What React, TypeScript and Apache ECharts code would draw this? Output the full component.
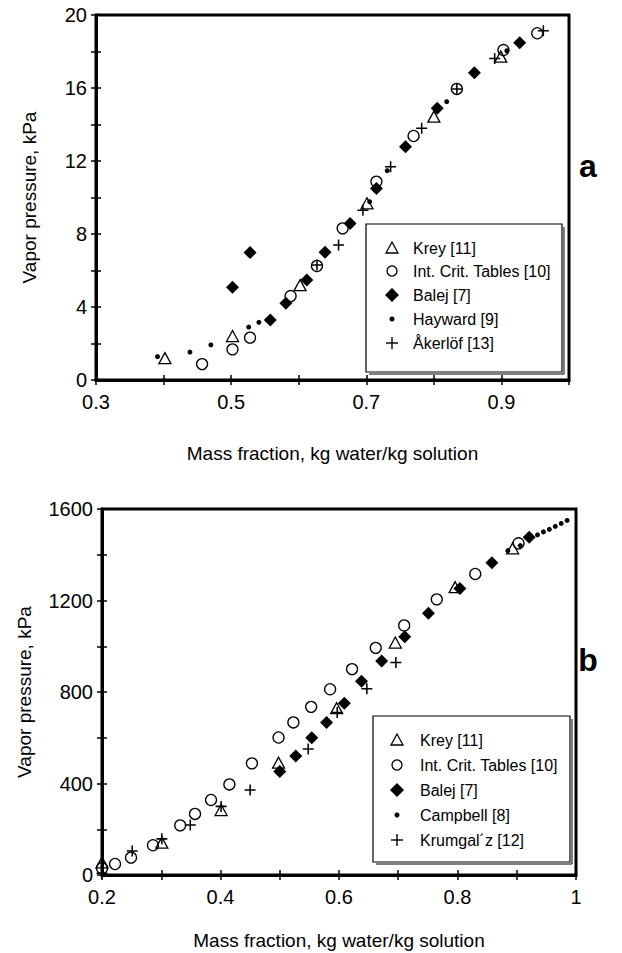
import React, { useEffect, useRef } from "react";
import * as echarts from "echarts";

// ---- Chart a: data [mass fraction, vapor pressure kPa]
const aKrey: number[][] = [[0.402, 1.2], [0.502, 2.41], [0.602, 5.2], [0.701, 9.68], [0.8, 14.43], [0.899, 17.72]];
const aICT: number[][] = [[0.457, 0.87], [0.502, 1.68], [0.528, 2.32], [0.588, 4.6], [0.627, 6.25], [0.665, 8.31], [0.715, 10.87], [0.77, 13.37], [0.834, 15.95], [0.903, 18.08], [0.953, 19.0]];
const aBalej: number[][] = [[0.502, 5.08], [0.528, 6.98], [0.558, 3.29], [0.581, 4.2], [0.612, 5.48], [0.639, 7.0], [0.676, 8.58], [0.715, 10.5], [0.758, 12.78], [0.805, 14.89], [0.86, 16.84], [0.927, 18.48]];
const aHayward: number[][] = [[0.391, 1.28], [0.439, 1.53], [0.47, 1.92], [0.526, 2.9], [0.541, 3.16], [0.705, 9.77], [0.731, 11.47], [0.819, 15.25], [0.908, 18.04]];
const aAkerlof: number[][] = [[0.627, 6.3], [0.659, 7.4], [0.695, 9.3], [0.736, 11.69], [0.782, 13.79], [0.834, 15.95], [0.89, 17.62], [0.962, 19.14]];

// ---- Chart b
const bKrey: number[][] = [[0.2, 55], [0.301, 141], [0.401, 284], [0.498, 491], [0.596, 729], [0.695, 1016], [0.796, 1258], [0.893, 1428]];
const bICT: number[][] = [[0.2, 30], [0.222, 48], [0.249, 76], [0.286, 130], [0.332, 217], [0.357, 267], [0.384, 328], [0.415, 396], [0.453, 488], [0.498, 601], [0.523, 667], [0.553, 735], [0.585, 812], [0.622, 900], [0.662, 993], [0.71, 1091], [0.765, 1205], [0.83, 1316], [0.903, 1450]];
const bBalej: number[][] = [[0.5, 452], [0.527, 520], [0.554, 600], [0.579, 667], [0.609, 751], [0.638, 847], [0.672, 935], [0.711, 1042], [0.751, 1144], [0.804, 1253], [0.858, 1365], [0.921, 1476]];
const bCampbell: number[][] = [[0.885, 1418], [0.906, 1440], [0.935, 1487], [0.945, 1500], [0.955, 1511], [0.965, 1524], [0.975, 1537], [0.985, 1550]];
const bKrumgalz: number[][] = [[0.2, 8], [0.251, 105], [0.301, 158], [0.349, 219], [0.401, 300], [0.45, 372], [0.548, 551], [0.597, 710], [0.647, 814], [0.696, 929]];

const legendA: string[] = ["Krey [11]", "Int. Crit. Tables [10]", "Balej [7]", "Hayward [9]", "Åkerlöf [13]"];
const legendB: string[] = ["Krey [11]", "Int. Crit. Tables [10]", "Balej [7]", "Campbell [8]", "Krumgal´z [12]"];

const xTitle = "Mass fraction, kg water/kg solution";
const yTitle = "Vapor pressure, kPa";

const FONT = "'Liberation Sans', Arial, Helvetica, sans-serif";
const PLUS = "path://M4.3,0H5.7V4.3H10V5.7H5.7V10H4.3V5.7H0V4.3H4.3Z";

type Kind = "tri" | "circ" | "dia" | "dot" | "plus";
const kinds: Kind[] = ["tri", "circ", "dia", "dot", "plus"];

function seriesFor(kind: Kind, name: string, data: number[][], gi: number): any {
  const base: any = {
    type: "scatter",
    name,
    data,
    xAxisIndex: gi * 2,
    yAxisIndex: gi * 2,
    z: 3,
  };
  if (kind === "tri") {
    return { ...base, symbol: "triangle", symbolSize: [12, 11], itemStyle: { color: "rgba(255,255,255,0)", borderColor: "#000", borderWidth: 1.3, opacity: 1 } };
  }
  if (kind === "circ") {
    return { ...base, symbol: "circle", symbolSize: 11, itemStyle: { color: "rgba(255,255,255,0)", borderColor: "#000", borderWidth: 1.3, opacity: 1 } };
  }
  if (kind === "dia") {
    return { ...base, symbol: "diamond", symbolSize: [13, 13], itemStyle: { color: "#000", opacity: 1 } };
  }
  if (kind === "dot") {
    return { ...base, symbol: "circle", symbolSize: 5, itemStyle: { color: "#000", opacity: 1 } };
  }
  return { ...base, symbol: PLUS, symbolSize: 11, itemStyle: { color: "#000", opacity: 1 } };
}

function legendGraphics(x: number, y: number, w: number, h: number, symX: number, textX: number, rows: number[], labels: string[]): any[] {
  const els: any[] = [];
  els.push({ type: "polyline", shape: { points: [[x + w + 2, y + 3], [x + w + 2, y + h + 2], [x + 3, y + h + 2]] }, style: { stroke: "#000", lineWidth: 1, fill: null }, z: 10 });
  els.push({ type: "rect", shape: { x, y, width: w, height: h }, style: { fill: "#fff", stroke: "#000", lineWidth: 1.2 }, z: 10 });
  kinds.forEach((k, i) => {
    const cy = rows[i];
    if (k === "tri") {
      els.push({ type: "polygon", shape: { points: [[symX, cy - 6], [symX + 6, cy + 5], [symX - 6, cy + 5]] }, style: { fill: null, stroke: "#000", lineWidth: 1.3 }, z: 11 });
    } else if (k === "circ") {
      els.push({ type: "circle", shape: { cx: symX, cy, r: 5 }, style: { fill: null, stroke: "#000", lineWidth: 1.3 }, z: 11 });
    } else if (k === "dia") {
      els.push({ type: "polygon", shape: { points: [[symX, cy - 7], [symX + 7, cy], [symX, cy + 7], [symX - 7, cy]] }, style: { fill: "#000" }, z: 11 });
    } else if (k === "dot") {
      els.push({ type: "circle", shape: { cx: symX, cy, r: 2.5 }, style: { fill: "#000" }, z: 11 });
    } else {
      els.push({ type: "line", shape: { x1: symX - 6, y1: cy, x2: symX + 6, y2: cy }, style: { stroke: "#000", lineWidth: 1.4 }, z: 11 });
      els.push({ type: "line", shape: { x1: symX, y1: cy - 6, x2: symX, y2: cy + 6 }, style: { stroke: "#000", lineWidth: 1.4 }, z: 11 });
    }
    els.push({ type: "text", x: textX, y: cy, style: { text: labels[i], font: `16px ${FONT}`, fill: "#000", textVerticalAlign: "middle", textAlign: "left" }, z: 11 });
  });
  return els;
}

export default function App() {
  const ref = useRef<HTMLDivElement>(null);
  useEffect(() => {
    if (!ref.current) return;
    const chart = echarts.init(ref.current, undefined, { renderer: "svg" });
    const axisLine = { show: true, onZero: false, lineStyle: { color: "#000", width: 3 } };
    const labelStyle = { color: "#000", fontSize: 20, fontFamily: FONT };
    const nameStyle = { color: "#000", fontSize: 19, fontFamily: FONT };

    const mkX = (gi: number, min: number, max: number, fmt: (v: number) => string, gap: number) => [
      {
        type: "value", gridIndex: gi, min, max, interval: 0.1,
        axisLine, axisTick: { show: true, inside: false, length: 5, lineStyle: { color: "#000", width: 1.5 } },
        axisLabel: { ...labelStyle, margin: 12, formatter: fmt, showMinLabel: true, showMaxLabel: true },
        splitLine: { show: false },
        name: xTitle, nameLocation: "middle", nameGap: gap, nameTextStyle: nameStyle,
      },
      {
        type: "value", gridIndex: gi, min, max, interval: 0.1, position: "bottom",
        axisLine: { show: false }, axisTick: { show: true, inside: true, length: 5, lineStyle: { color: "#000", width: 1.5 } },
        axisLabel: { show: false }, splitLine: { show: false },
      },
    ];
    const mkY = (gi: number, max: number, interval: number, fmt: (v: number) => string, gap: number) => [
      {
        type: "value", gridIndex: gi, min: 0, max, interval,
        axisLine, axisTick: { show: true, inside: false, length: 5, lineStyle: { color: "#000", width: 1.5 } },
        axisLabel: { ...labelStyle, margin: 9, formatter: fmt },
        splitLine: { show: false },
        name: yTitle, nameLocation: "middle", nameGap: gap, nameTextStyle: nameStyle,
      },
      {
        type: "value", gridIndex: gi, min: 0, max, interval, position: "left",
        axisLine: { show: false }, axisTick: { show: true, inside: true, length: 5, lineStyle: { color: "#000", width: 1.5 } },
        axisLabel: { show: false }, splitLine: { show: false },
      },
    ];

    const fmtXA = (v: number) => (Math.round(v * 10) % 2 === 1 ? (Math.round(v * 10) / 10).toFixed(1) : "");
    const fmtXB = (v: number) => {
      const t = Math.round(v * 10);
      if (t % 2 !== 0) return "";
      return t === 10 ? "1" : (t / 10).toFixed(1);
    };
    const fmtYA = (v: number) => (Math.round(v) % 4 === 0 ? String(Math.round(v)) : "");
    const fmtYB = (v: number) => (Math.round(v) % 400 === 0 ? String(Math.round(v)) : "");

    const series: any[] = [];
    const aData = [aKrey, aICT, aBalej, aHayward, aAkerlof];
    const bData = [bKrey, bICT, bBalej, bCampbell, bKrumgalz];
    kinds.forEach((k, i) => series.push(seriesFor(k, legendA[i], aData[i], 0)));
    kinds.forEach((k, i) => series.push(seriesFor(k, legendB[i], bData[i], 1)));

    const option: any = {
      animation: false,
      backgroundColor: "#fff",
      grid: [
        { left: 96, top: 15, width: 473, height: 365, show: true, borderColor: "#000", borderWidth: 3, backgroundColor: "transparent" },
        { left: 102, top: 509, width: 474, height: 366, show: true, borderColor: "#000", borderWidth: 3, backgroundColor: "transparent" },
      ],
      xAxis: [...mkX(0, 0.3, 1.0, fmtXA, 64), ...mkX(1, 0.2, 1.0, fmtXB, 56)],
      yAxis: [...mkY(0, 20, 2, fmtYA, 57), ...mkY(1, 1600, 200, fmtYB, 68)],
      series,
      graphic: [
        ...legendGraphics(366, 224, 196, 148, 392, 413, [248, 271, 295, 319, 343], legendA),
        ...legendGraphics(373, 716, 197, 146, 397, 420, [740, 765, 790, 815, 840], legendB),
        { type: "text", x: 588, y: 166, style: { text: "a", font: `bold 32px ${FONT}`, fill: "#000", textAlign: "center", textVerticalAlign: "middle" } },
        { type: "text", x: 588, y: 660, style: { text: "b", font: `bold 32px ${FONT}`, fill: "#000", textAlign: "center", textVerticalAlign: "middle" } },
      ],
    };
    chart.setOption(option);
    return () => chart.dispose();
  }, []);
  return <div ref={ref} style={{ position: "absolute", left: 0, top: 0, width: 622, height: 953 }} />;
}
